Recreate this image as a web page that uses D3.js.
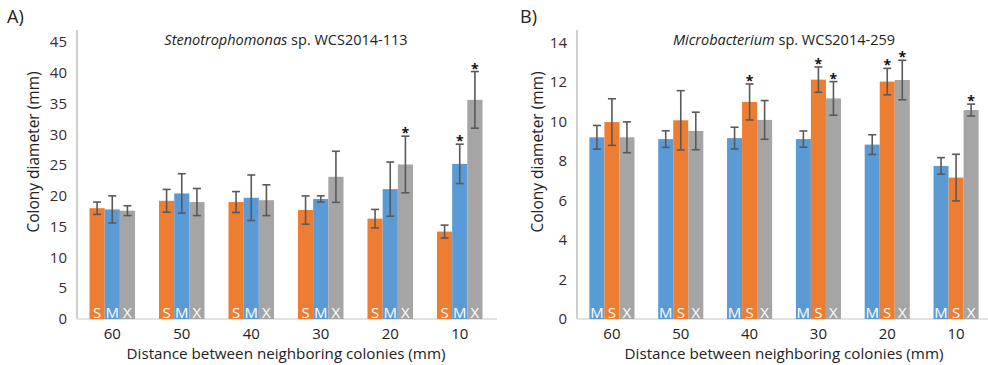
<!DOCTYPE html>
<html>
<head>
<meta charset="utf-8">
<script src="https://cdn.jsdelivr.net/npm/d3@7"></script>
<style>
  body { margin: 0; background: #fff; }
  svg { display: block; font-family: "Open Sans", sans-serif; }
</style>
</head>
<body>
<svg id="chart" width="988" height="365"></svg>
<script>
// distances between colonies (mm)
var distances = ["60", "50", "40", "30", "20", "10"];

// panel A: Stenotrophomonas, bars in order S, M, X
var stenoSeries = ["S", "M", "X"];
var stenoS = [18.0, 19.2, 19.0, 17.7, 16.3, 14.2];
var stenoSErr = [1.0, 1.85, 1.7, 2.3, 1.5, 1.05];
var stenoM = [17.8, 20.4, 19.7, 19.5, 21.1, 25.2];
var stenoMErr = [2.2, 3.2, 3.7, 0.5, 4.4, 3.2];
var stenoX = [17.6, 19.0, 19.3, 23.1, 25.1, 35.6];
var stenoXErr = [0.8, 2.2, 2.5, 4.15, 4.6, 4.6];
var stenoSigS = [0, 0, 0, 0, 0, 0];
var stenoSigM = [0, 0, 0, 0, 0, 1];
var stenoSigX = [0, 0, 0, 0, 1, 1];
var stenoTicks = [0, 5, 10, 15, 20, 25, 30, 35, 40, 45];

// panel B: Microbacterium, bars in order M, S, X
var microSeries = ["M", "S", "X"];
var microM = [9.2, 9.11, 9.16, 9.11, 8.83, 7.75];
var microMErr = [0.6, 0.42, 0.55, 0.41, 0.5, 0.42];
var microS = [9.97, 10.06, 10.99, 12.12, 12.02, 7.16];
var microSErr = [1.18, 1.5, 0.91, 0.64, 0.67, 1.18];
var microX = [9.2, 9.52, 10.08, 11.17, 12.1, 10.58];
var microXErr = [0.78, 0.95, 0.98, 0.85, 1.0, 0.3];
var microSigM = [0, 0, 0, 0, 0, 0];
var microSigS = [0, 0, 1, 1, 1, 0];
var microSigX = [0, 0, 0, 1, 1, 1];
var microTicks = [0, 2, 4, 6, 8, 10, 12, 14];

var COLORS = { S: "#ED7D31", M: "#5B9BD5", X: "#A5A5A5" };
var AXIS_GREY = "#bfbfbf";
var ERR_GREY = "#595959";

var svg = d3.select("#chart");

function makeRows(series, values, errs, sigs) {
  return distances.map(function (d, i) {
    return {
      dist: d,
      bars: series.map(function (s, k) {
        return { key: s, value: values[k][i], err: errs[k][i], sig: sigs[k][i] };
      })
    };
  });
}

function drawPanel(opt) {
  var g = svg.append("g");
  var y = d3.scaleLinear().domain([0, opt.yMax]).range([319, opt.yTop]);
  var x0 = d3.scaleBand().domain(distances)
      .range([opt.left, opt.right]).paddingInner(0.345).paddingOuter(0.18);
  var x1 = d3.scaleBand().domain(opt.series).range([0, x0.bandwidth()]);

  // panel letter
  g.append("text").attr("x", opt.labelX).attr("y", 23)
    .attr("font-size", 18).attr("fill", "#222").text(opt.label);

  // title with italic genus
  var t = g.append("text").attr("x", (opt.left + opt.right) / 2).attr("y", 45)
    .attr("text-anchor", "middle").attr("font-size", 14.5).attr("fill", "#222");
  t.append("tspan").attr("font-style", "italic").text(opt.genus);
  t.append("tspan").text(" sp. " + opt.strain);

  // y tick labels
  g.selectAll(".ytick").data(opt.ticks).enter().append("text")
    .attr("x", opt.left - 10).attr("y", function (d) { return y(d); })
    .attr("dy", "0.35em").attr("text-anchor", "end")
    .attr("font-size", 15).attr("fill", "#3b2a2e")
    .text(function (d) { return d; });

  // axes lines
  g.append("line").attr("x1", opt.left).attr("x2", opt.left)
    .attr("y1", 30).attr("y2", y(0))
    .attr("stroke", AXIS_GREY).attr("stroke-width", 1.5);
  g.append("line").attr("x1", opt.left).attr("x2", opt.axisEnd)
    .attr("y1", y(0)).attr("y2", y(0))
    .attr("stroke", "#d9d9d9").attr("stroke-width", 1.5);

  // y axis title
  g.append("text")
    .attr("transform", "translate(" + opt.yTitleX + ",152) rotate(-90)")
    .attr("text-anchor", "middle").attr("font-size", 15.5).attr("fill", "#222")
    .text("Colony diameter (mm)");

  // x tick labels
  g.selectAll(".xtick").data(distances).enter().append("text")
    .attr("x", function (d) { return x0(d) + x0.bandwidth() / 2; })
    .attr("y", 339).attr("text-anchor", "middle")
    .attr("font-size", 15).attr("fill", "#222")
    .text(function (d) { return d; });

  g.append("text").attr("x", (opt.left + opt.right) / 2).attr("y", 359)
    .attr("text-anchor", "middle").attr("font-size", 15.2).attr("fill", "#222")
    .text("Distance between neighboring colonies (mm)");

  var groups = g.selectAll(".grp").data(opt.rows).enter().append("g")
    .attr("transform", function (d) { return "translate(" + x0(d.dist) + ",0)"; });

  var bar = groups.selectAll(".bar").data(function (d) { return d.bars; }).enter().append("g");

  bar.append("rect")
    .attr("x", function (d) { return x1(d.key); })
    .attr("width", x1.bandwidth())
    .attr("y", function (d) { return y(d.value); })
    .attr("height", function (d) { return y(0) - y(d.value); })
    .attr("fill", function (d) { return COLORS[d.key]; });

  // error bars
  var cx = function (d) { return x1(d.key) + x1.bandwidth() / 2; };
  bar.append("line")
    .attr("x1", cx).attr("x2", cx)
    .attr("y1", function (d) { return y(d.value + d.err); })
    .attr("y2", function (d) { return y(d.value - d.err); })
    .attr("stroke", ERR_GREY).attr("stroke-width", 1.6);
  [1, -1].forEach(function (sgn) {
    bar.append("line")
      .attr("x1", function (d) { return cx(d) - 4; })
      .attr("x2", function (d) { return cx(d) + 4; })
      .attr("y1", function (d) { return y(d.value + sgn * d.err); })
      .attr("y2", function (d) { return y(d.value + sgn * d.err); })
      .attr("stroke", ERR_GREY).attr("stroke-width", 1.6);
  });

  // significance stars
  bar.filter(function (d) { return d.sig; }).append("text")
    .attr("x", cx).attr("y", function (d) { return y(d.value + d.err) + 2; })
    .attr("text-anchor", "middle").attr("font-size", 14).attr("font-weight", "bold")
    .attr("fill", "#111").text("*");

  // letters inside bars
  bar.append("text")
    .attr("x", cx).attr("y", 317.5)
    .attr("text-anchor", "middle").attr("font-size", 15).attr("fill", "#fff")
    .text(function (d) { return d.key; });
}

drawPanel({
  label: "A)", labelX: 7,
  genus: "Stenotrophomonas", strain: "WCS2014-113",
  left: 77, right: 495, axisEnd: 497, yTitleX: 39,
  yMax: 45, yTop: 42, ticks: stenoTicks, series: stenoSeries,
  rows: makeRows(stenoSeries, [stenoS, stenoM, stenoX],
    [stenoSErr, stenoMErr, stenoXErr], [stenoSigS, stenoSigM, stenoSigX])
});

drawPanel({
  label: "B)", labelX: 520,
  genus: "Microbacterium", strain: "WCS2014-259",
  left: 577, right: 991, axisEnd: 988, yTitleX: 543,
  yMax: 14, yTop: 42.5, ticks: microTicks, series: microSeries,
  rows: makeRows(microSeries, [microM, microS, microX],
    [microMErr, microSErr, microXErr], [microSigM, microSigS, microSigX])
});
</script>
</body>
</html>
